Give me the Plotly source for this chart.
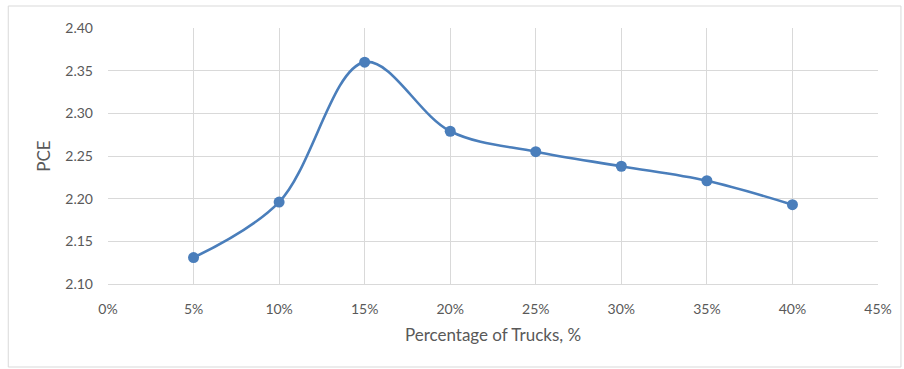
import plotly.graph_objects as go

# Share of trucks in the traffic stream and the resulting passenger car equivalent
truck_share = [0.05, 0.10, 0.15, 0.20, 0.25, 0.30, 0.35, 0.40]
pce = [2.131, 2.196, 2.360, 2.279, 2.255, 2.238, 2.221, 2.193]

x_ticks = [0.00, 0.05, 0.10, 0.15, 0.20, 0.25, 0.30, 0.35, 0.40, 0.45]
y_ticks = [2.10, 2.15, 2.20, 2.25, 2.30, 2.35, 2.40]

blue = "#4a7ebb"
grey_text = "#595959"
grid = "#d9d9d9"
font_family = "Lato, 'Open Sans', sans-serif"

fig = go.Figure(
    go.Scatter(
        x=truck_share,
        y=pce,
        mode="lines+markers",
        line=dict(color=blue, width=2.6, shape="spline", smoothing=1.0),
        marker=dict(color=blue, size=11),
        showlegend=False,
    )
)

W, H = 904, 369
L, R, T, B = 108, 24, 28, 85
pw, ph = W - L - R, H - T - B

def px_x(px):
    return (px - L) / pw

def px_y(py):
    return (H - B - py) / ph

fig.update_layout(
    width=W,
    height=H,
    margin=dict(l=L, r=R, t=T, b=B),
    paper_bgcolor="white",
    plot_bgcolor="white",
    font=dict(family=font_family, color=grey_text, size=14),
    xaxis=dict(
        range=[0, 0.45],
        tickvals=x_ticks,
        tickformat=".0%",
        showgrid=True,
        gridcolor=grid,
        gridwidth=1,
        zeroline=False,
        showline=True,
        linecolor=grid,
        ticks="",
        ticklabelstandoff=12,
        tickfont=dict(size=14, color=grey_text),
        title=dict(text="Percentage of Trucks, %", font=dict(size=17, color=grey_text), standoff=13),
    ),
    yaxis=dict(
        range=[2.10, 2.40],
        tickvals=y_ticks,
        tickformat=".2f",
        showgrid=True,
        gridcolor=grid,
        gridwidth=1,
        zeroline=False,
        showline=False,
        ticks="",
        ticklabelstandoff=14,
        tickfont=dict(size=14, color=grey_text),
        title=dict(text="PCE", font=dict(size=17, color=grey_text), standoff=10),
    ),
    shapes=[
        dict(
            type="rect",
            xref="paper",
            yref="paper",
            x0=px_x(8),
            x1=px_x(903),
            y0=px_y(367),
            y1=px_y(6),
            line=dict(color="#d9d9d9", width=1),
            fillcolor="rgba(0,0,0,0)",
            layer="below",
        )
    ],
)

fig.write_html("out.html")
